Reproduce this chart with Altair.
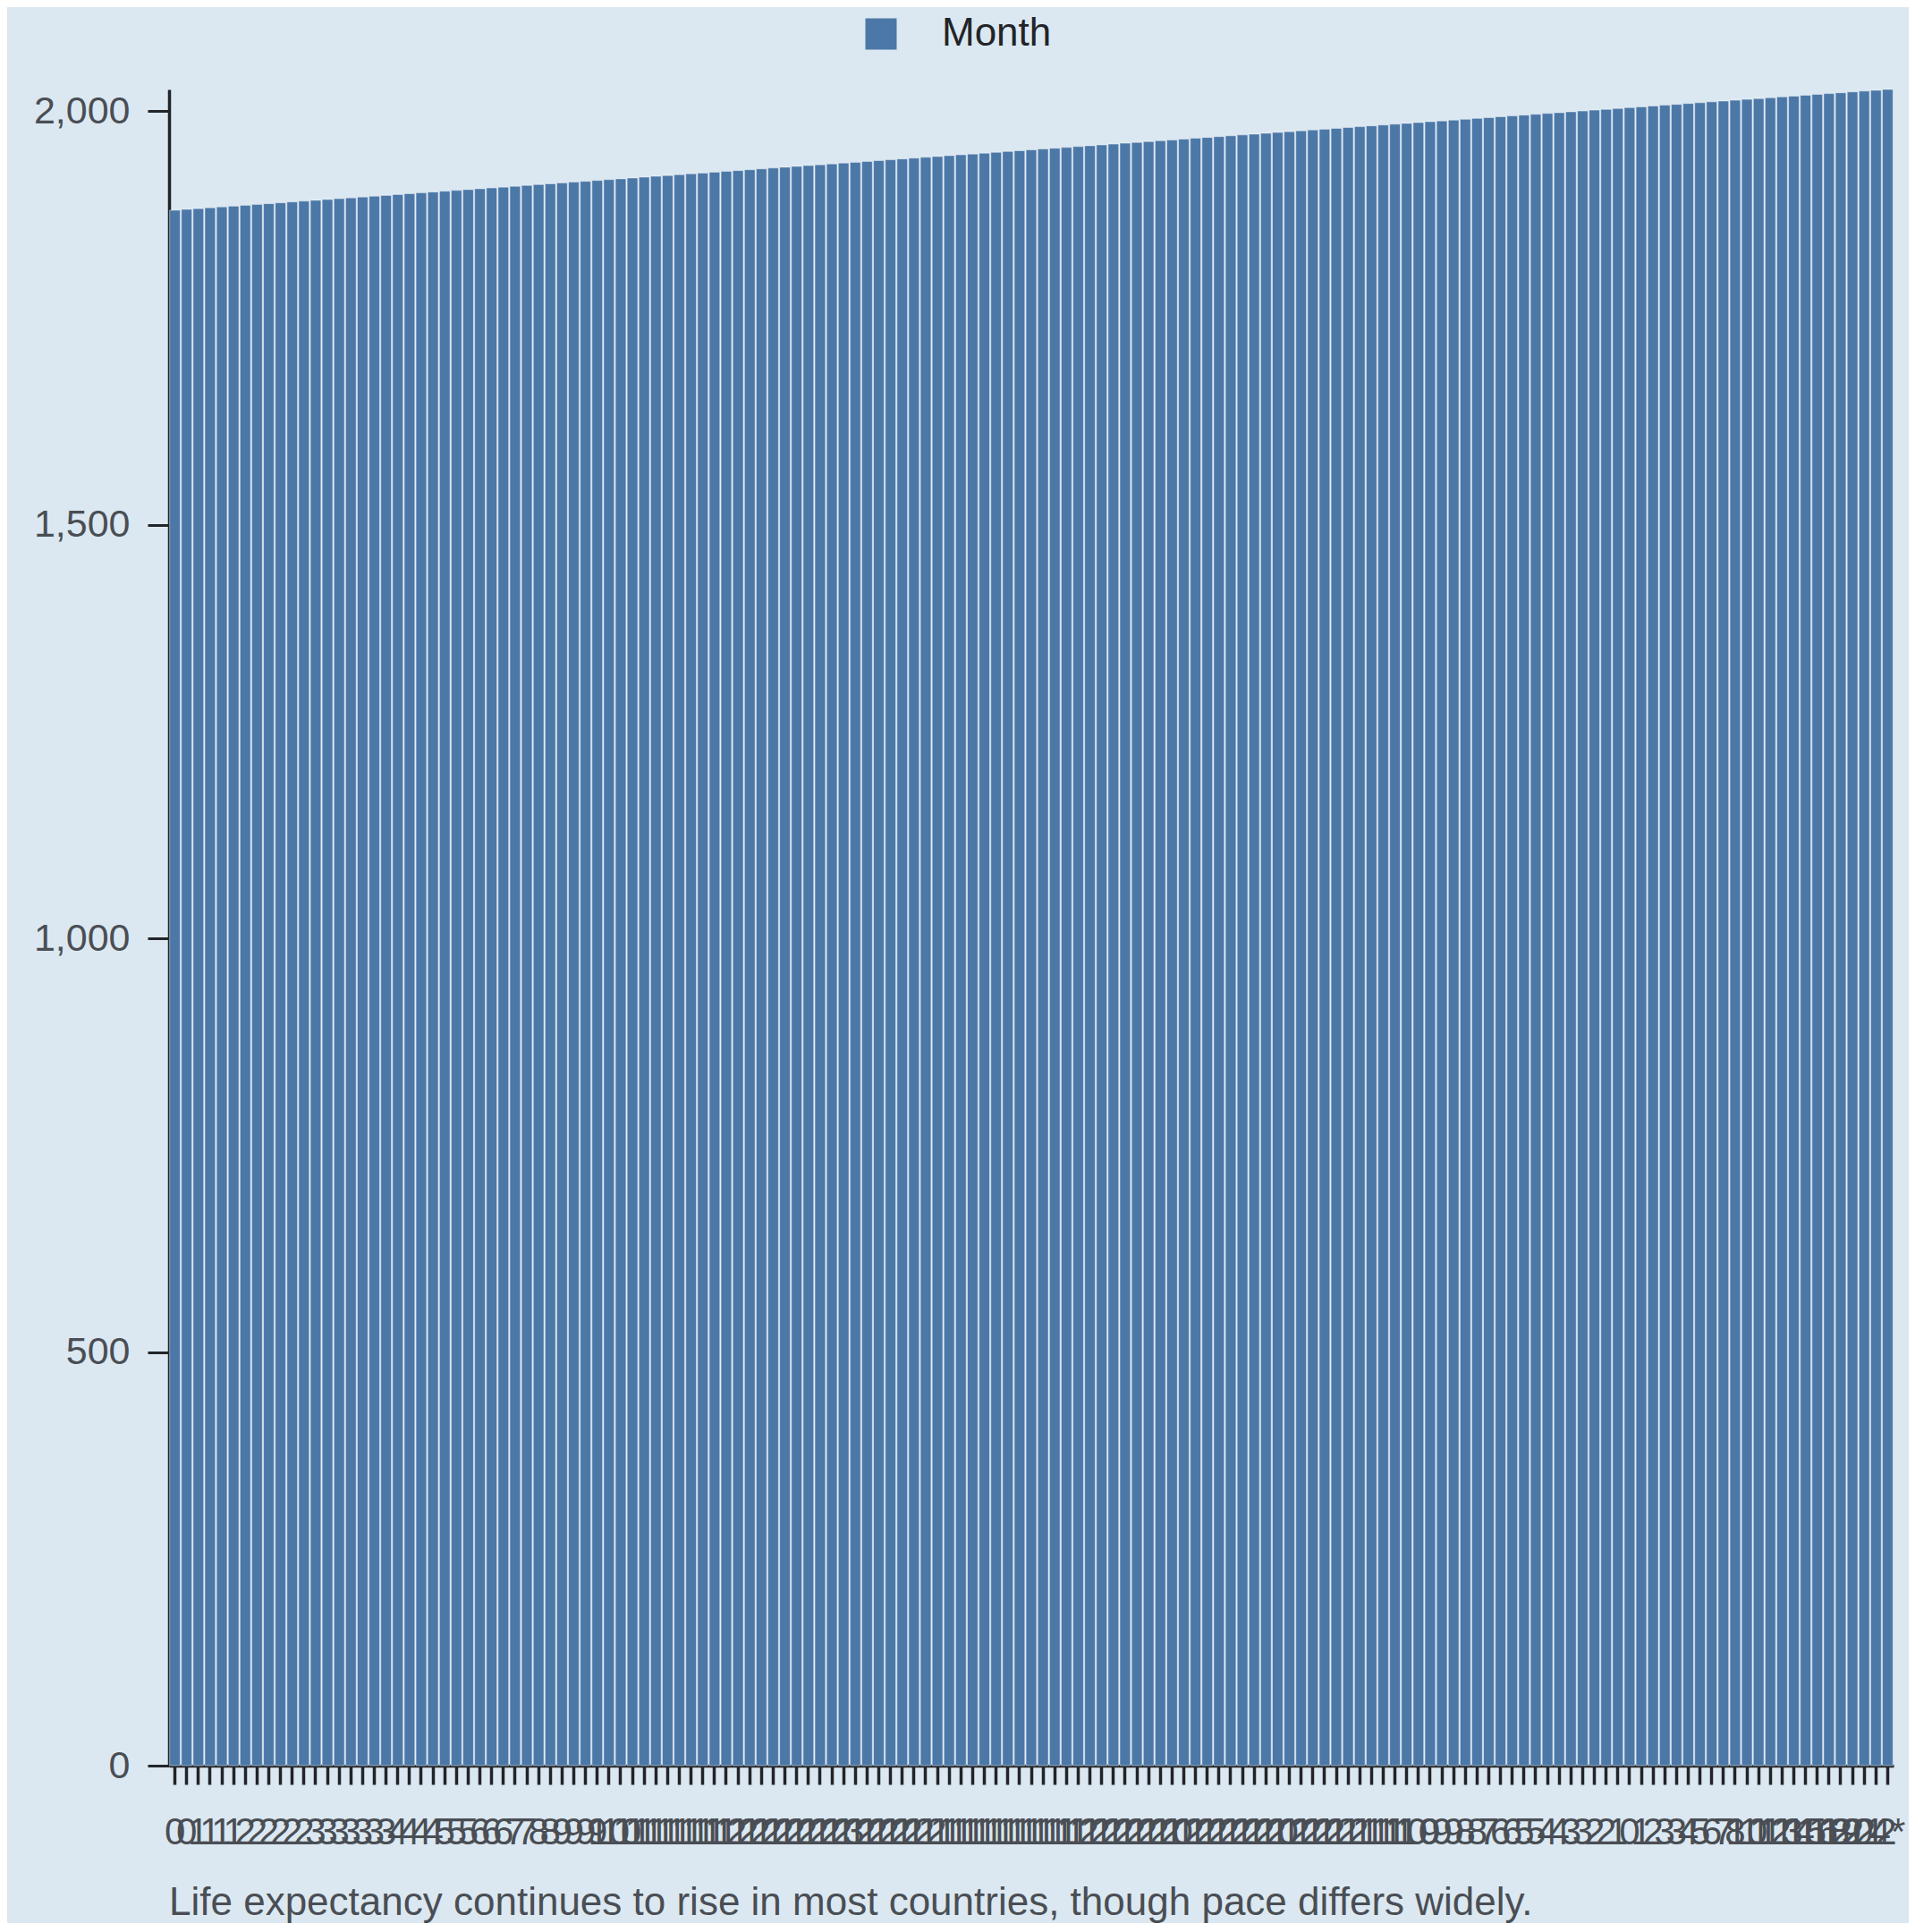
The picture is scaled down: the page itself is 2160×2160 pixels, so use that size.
import json
import altair as alt
import pandas as pd

series_name = "Month"

values = [
    1880, 1881, 1882, 1883, 1884, 1885, 1886, 1887, 1888, 1889,
    1890, 1891, 1892, 1893, 1894, 1895, 1896, 1897, 1898, 1899,
    1900, 1901, 1902, 1903, 1904, 1905, 1906, 1907, 1908, 1909,
    1910, 1911, 1912, 1913, 1914, 1915, 1916, 1917, 1918, 1919,
    1920, 1921, 1922, 1923, 1924, 1925, 1926, 1927, 1928, 1929,
    1930, 1931, 1932, 1933, 1934, 1935, 1936, 1937, 1938, 1939,
    1940, 1941, 1942, 1943, 1944, 1945, 1946, 1947, 1948, 1949,
    1950, 1951, 1952, 1953, 1954, 1955, 1956, 1957, 1958, 1959,
    1960, 1961, 1962, 1963, 1964, 1965, 1966, 1967, 1968, 1969,
    1970, 1971, 1972, 1973, 1974, 1975, 1976, 1977, 1978, 1979,
    1980, 1981, 1982, 1983, 1984, 1985, 1986, 1987, 1988, 1989,
    1990, 1991, 1992, 1993, 1994, 1995, 1996, 1997, 1998, 1999,
    2000, 2001, 2002, 2003, 2004, 2005, 2006, 2007, 2008, 2009,
    2010, 2011, 2012, 2013, 2014, 2015, 2016, 2017, 2018, 2019,
    2020, 2021, 2022, 2023, 2024, 2025, 2026,
]

tick_labels = [
    "0", "0", "1", "1", "1", "1", "2", "2", "2", "2",
    "2", "2", "3", "3", "3", "3", "3", "3", "3", "4",
    "4", "4", "4", "5", "5", "5", "6", "6", "6", "7",
    "7", "8", "8", "9", "9", "9", "9", "10", "10", "11",
    "11", "11", "11", "11", "11", "11", "11", "12", "12", "12",
    "12", "12", "12", "12", "12", "12", "12", "13", "12", "12",
    "12", "12", "12", "12", "12", "11", "11", "11", "11", "11",
    "11", "11", "11", "11", "11", "11", "11", "12", "12", "12",
    "12", "12", "12", "12", "12", "10", "12", "12", "12", "12",
    "12", "12", "12", "12", "10", "12", "12", "12", "12", "12",
    "12", "11", "11", "11", "11", "10", "10", "9", "9", "9",
    "8", "8", "7", "6", "6", "5", "5", "4", "4", "3",
    "3", "2", "2", "1", "0", "1", "2", "3", "3", "4",
    "5", "6", "7", "8", "10", "11", "12", "13", "14", "15",
    "16", "18", "19", "20", "21", "22", "4*",
]

y_ticks = [0, 500, 1000, 1500, 2000]

caption = "Life expectancy continues to rise in most countries, though pace differs widely."

df = pd.DataFrame({
    "idx": list(range(len(values))),
    "value": values,
    "series": [series_name] * len(values),
})

label_expr = json.dumps(tick_labels) + "[datum.value]"

FONT = "Liberation Sans"
BG = "#dbe8f1"

chart = (
    alt.Chart(df)
    .mark_bar(stroke="#ffffff", strokeWidth=1, strokeOpacity=0.45)
    .encode(
        x=alt.X(
            "idx:O",
            axis=alt.Axis(
                title=None,
                labelExpr=label_expr,
                labelAngle=0,
                labelOverlap=False,
                labelFontSize=42,
                labelColor="#4a4e54",
                labelPadding=33,
                tickSize=21,
                tickWidth=3.5,
                tickColor="#222428",
                domainWidth=3.5,
                domainColor="#222428",
                labelFont=FONT,
            ),
        ),
        y=alt.Y(
            "value:Q",
            scale=alt.Scale(nice=False, zero=True),
            axis=alt.Axis(
                title=None,
                values=y_ticks,
                format=",.0f",
                grid=False,
                labelFontSize=43,
                labelColor="#4a4e54",
                labelPadding=20,
                tickSize=24,
                tickWidth=3,
                tickColor="#222428",
                domainWidth=3.5,
                domainColor="#222428",
                labelFont=FONT,
            ),
        ),
        color=alt.Color(
            "series:N",
            scale=alt.Scale(range=["#4c78a8"]),
            legend=alt.Legend(
                title=None,
                orient="none",
                legendX=774,
                legendY=-84,
                direction="horizontal",
                symbolType="square",
                symbolSize=1225,
                symbolStrokeWidth=0,
                labelFontSize=44,
                labelColor="#222428",
                labelFont=FONT,
                labelOffset=46,
            ),
        ),
    )
    .properties(
        width=1928,
        height=1874,
        background=BG,
        padding={"left": 29, "top": 8, "right": 4, "bottom": 0},
        title=alt.TitleParams(
            text=caption,
            orient="bottom",
            anchor="start",
            frame="group",
            fontSize=44,
            font=FONT,
            fontWeight="normal",
            color="#4a4e54",
            offset=37,
        ),
    )
    .configure_view(stroke=None)
)

chart.save("out.html", embed_options={"renderer": "svg", "actions": False})
